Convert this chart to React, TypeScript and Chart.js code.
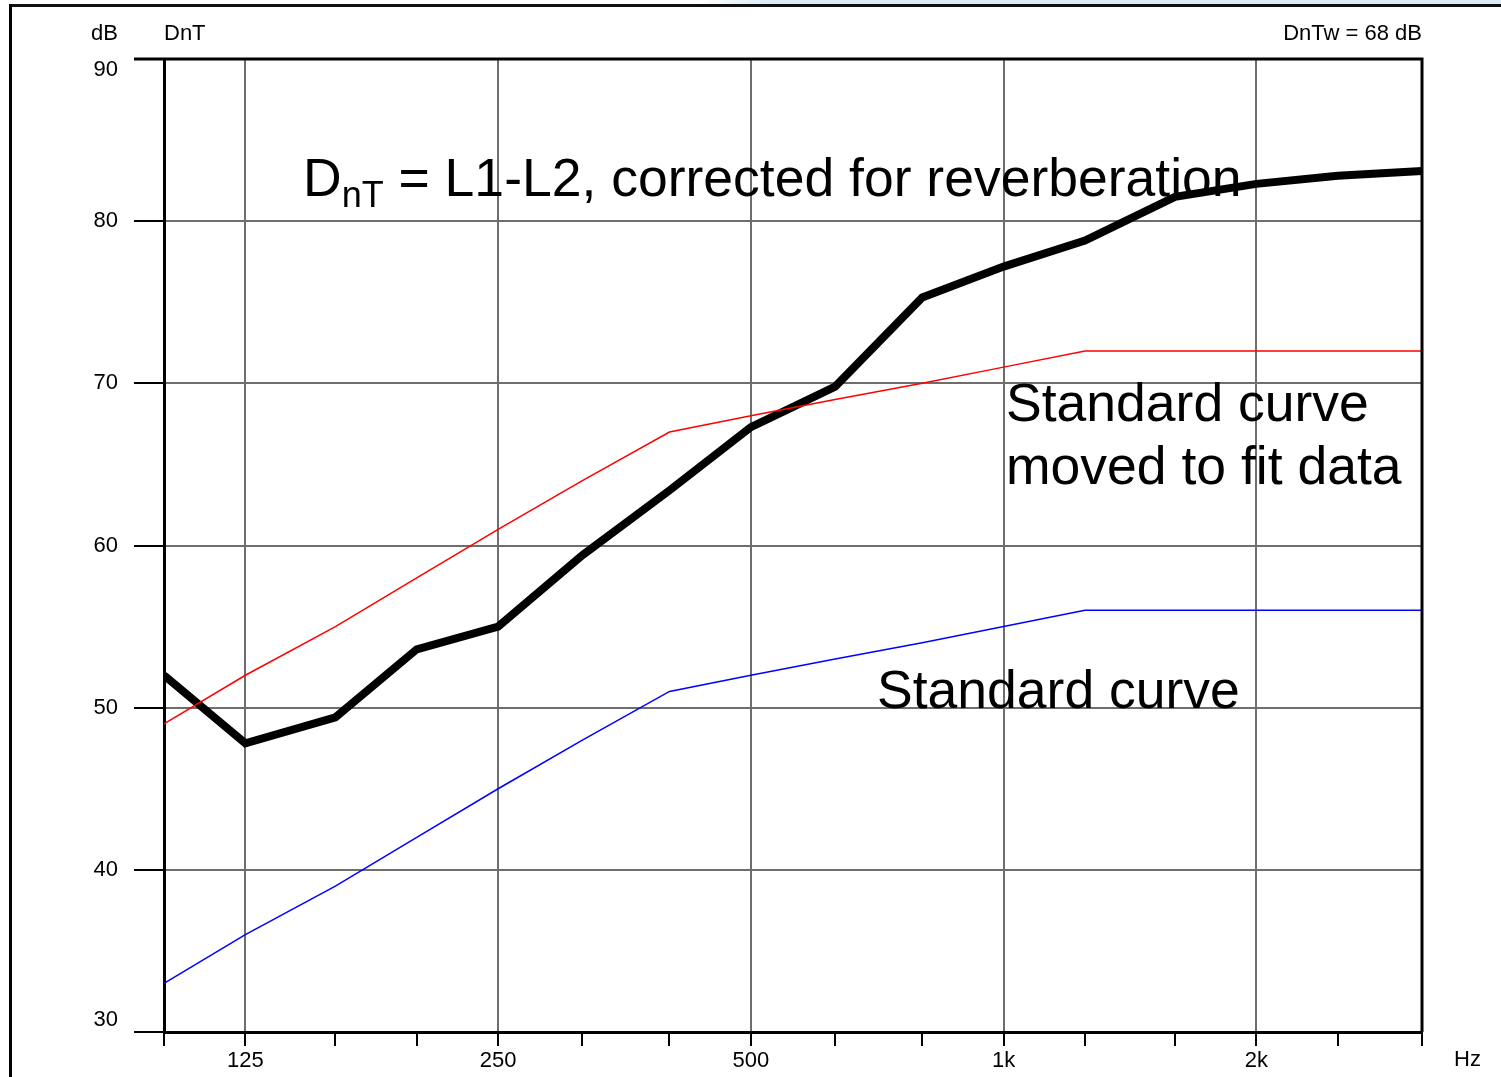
import React, { useEffect, useRef } from "react";
import { Chart, registerables } from "chart.js";

Chart.register(...registerables);

const bands = [100, 125, 160, 200, 250, 315, 400, 500, 630, 800, 1000, 1250, 1600, 2000, 2500, 3150];
const bandLabels: Record<number, string> = { 125: "125", 250: "250", 500: "500", 1000: "1k", 2000: "2k" };
const measuredDnT = [52.0, 47.8, 49.4, 53.6, 55.0, 59.4, 63.4, 67.3, 69.8, 75.3, 77.2, 78.8, 81.5, 82.3, 82.8, 83.1];
const shiftedCurve = [49, 52, 55, 58, 61, 64, 67, 68, 69, 70, 71, 72, 72, 72, 72, 72];
const standardCurve = [33, 36, 39, 42, 45, 48, 51, 52, 53, 54, 55, 56, 56, 56, 56, 56];
const yTicks = [30, 40, 50, 60, 70, 80, 90];

const FONT = "'Liberation Sans', Arial, sans-serif";
const SMALL = 22;
const BIG = 53.5;

const pts = (vals: number[]) => bands.map((f, i) => ({ x: f, y: vals[i] }));

export default function App() {
  const ref = useRef<HTMLCanvasElement | null>(null);

  useEffect(() => {
    if (!ref.current) return;
    const overlay = {
      id: "overlay",
      afterDatasetsDraw(chart: any) {
        const ctx = chart.ctx as CanvasRenderingContext2D;
        const { left, right, top, bottom } = chart.chartArea;
        const y = chart.scales.y;
        ctx.save();
        ctx.strokeStyle = "#000";
        ctx.lineWidth = 3;
        ctx.beginPath();
        ctx.moveTo(left - 30, top);
        ctx.lineTo(right, top);
        ctx.lineTo(right, bottom);
        ctx.stroke();
        ctx.fillStyle = "#000";
        ctx.font = `${SMALL}px ${FONT}`;
        ctx.textAlign = "right";
        ctx.textBaseline = "middle";
        yTicks.forEach((v) => {
          let py = y.getPixelForValue(v);
          if (v === 90) py += 11;
          if (v === 30) py -= 12;
          ctx.fillText(String(v), 118, py);
        });
        ctx.fillText("dB", 118, 34);
        ctx.textAlign = "left";
        ctx.fillText("DnT", left, 34);
        ctx.fillText("Hz", 1454, 1060);
        ctx.textAlign = "right";
        ctx.fillText("DnTw = 68 dB", right, 34);
        ctx.textAlign = "left";
        ctx.textBaseline = "alphabetic";
        ctx.font = `${BIG}px ${FONT}`;
        let x = 303;
        ctx.fillText("D", x, 196);
        x += ctx.measureText("D").width;
        ctx.font = `36px ${FONT}`;
        ctx.fillText("nT", x, 207);
        x += ctx.measureText("nT").width;
        ctx.font = `${BIG}px ${FONT}`;
        ctx.fillText(" = L1-L2, corrected for reverberation", x, 196);
        ctx.fillText("Standard curve", 1006, 421);
        ctx.fillText("moved to fit data", 1006, 484);
        ctx.fillText("Standard curve", 877, 708);
        ctx.restore();
      },
    };

    const chart = new Chart(ref.current, {
      type: "line",
      data: {
        datasets: [
          { data: pts(standardCurve), borderColor: "#0000ff", borderWidth: 1.5, pointRadius: 0, tension: 0 },
          { data: pts(shiftedCurve), borderColor: "#ff0000", borderWidth: 1.5, pointRadius: 0, tension: 0 },
          { data: pts(measuredDnT), borderColor: "#000000", borderWidth: 8, pointRadius: 0, tension: 0, borderJoinStyle: "miter" as any },
        ],
      },
      options: {
        animation: false,
        responsive: false,
        devicePixelRatio: 1,
        layout: { padding: { top: 59, right: 79, bottom: 0, left: 0 } },
        plugins: { legend: { display: false }, tooltip: { enabled: false }, title: { display: false } },
        scales: {
          x: {
            type: "logarithmic",
            min: 100,
            max: 3150,
            afterFit: (s: any) => { s.height = 45; },
            afterBuildTicks: (s: any) => { s.ticks = bands.map((v) => ({ value: v })); },
            grid: {
              color: (c: any) => (c.tick && bandLabels[c.tick.value] ? "#6e6e6e" : "rgba(0,0,0,0)"),
              lineWidth: 2,
              tickLength: 14,
              tickColor: "#000",
              tickWidth: 2,
            },
            border: { color: "#000", width: 3 },
            ticks: {
              autoSkip: false,
              maxRotation: 0,
              padding: 2,
              color: "#000",
              font: { size: SMALL, family: FONT },
              callback: (v: any) => bandLabels[Number(v)] || "",
            },
          },
          y: {
            min: 30,
            max: 90,
            afterFit: (s: any) => { s.width = 164; },
            ticks: { stepSize: 10, display: false },
            grid: {
              color: (c: any) => (c.tick && (c.tick.value === 30 || c.tick.value === 90) ? "rgba(0,0,0,0)" : "#6e6e6e"),
              lineWidth: 2,
              tickLength: 30,
              tickColor: "#000",
              tickWidth: 2,
            },
            border: { color: "#000", width: 3 },
          },
        },
      },
      plugins: [overlay],
    });
    return () => chart.destroy();
  }, []);

  return (
    <div style={{ position: "fixed", left: 0, top: 0, width: 1501, height: 1077, background: "#fff", overflow: "hidden" }}>
      <div style={{ position: "absolute", left: 700, top: 0, width: 801, height: 5, background: "linear-gradient(to right, #ffffff, #dcecf6 8%, #dcecf6)" }} />
      <div style={{ position: "absolute", left: 9, top: 4, right: 0, height: 3, background: "#111" }} />
      <div style={{ position: "absolute", left: 9, top: 4, width: 3, bottom: 0, background: "#000" }} />
      <canvas ref={ref} width={1501} height={1077} style={{ position: "absolute", left: 0, top: 0, width: 1501, height: 1077 }} />
    </div>
  );
}
